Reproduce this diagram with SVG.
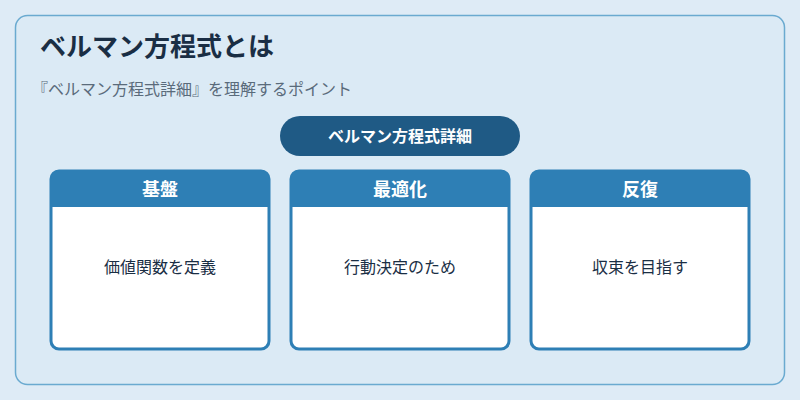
<svg xmlns="http://www.w3.org/2000/svg" width="800" height="400" viewBox="0 0 800 400">
<style>
text{font-family:"Noto Sans CJK JP","Noto Sans",sans-serif}
.card{fill:#fff;stroke:#2e7fb5;stroke-width:3}
.hd{fill:#2e7fb5}
.ht{fill:#fff;font-size:18px;font-weight:bold;text-anchor:middle}
.bt{fill:#1a2e44;font-size:16px;text-anchor:middle}
</style>
<rect x="0" y="0" width="800" height="400" fill="#deebf6"/>
<rect x="15.5" y="15.5" width="769" height="369" rx="12" fill="#dbeaf5" stroke="#6aaad0" stroke-width="1.5"/>
<text x="40" y="56" font-size="26" font-weight="bold" fill="#1a2e44">ベルマン方程式とは</text>
<text x="32" y="95" font-size="16" fill="#5a6b7b">『ベルマン方程式詳細』を理解するポイント</text>
<g id="center">
<rect x="280" y="116" width="240" height="40" rx="20" fill="#1f5a85"/>
<text x="400" y="142" font-size="16" font-weight="bold" fill="#fff" text-anchor="middle">ベルマン方程式詳細</text>
</g>
<g id="connectors"></g>
<g id="n1">
<rect class="card" x="51" y="171" width="218" height="178" rx="8"/>
<path class="hd" d="M51,207 V179 a8,8 0 0 1 8,-8 H261 a8,8 0 0 1 8,8 V207 Z"/>
<text class="ht" x="160" y="196">基盤</text>
<text class="bt" x="160" y="273">価値関数を定義</text>
</g>
<g id="n2">
<rect class="card" x="291" y="171" width="218" height="178" rx="8"/>
<path class="hd" d="M291,207 V179 a8,8 0 0 1 8,-8 H501 a8,8 0 0 1 8,8 V207 Z"/>
<text class="ht" x="400" y="196">最適化</text>
<text class="bt" x="400" y="273">行動決定のため</text>
</g>
<g id="n3">
<rect class="card" x="531" y="171" width="218" height="178" rx="8"/>
<path class="hd" d="M531,207 V179 a8,8 0 0 1 8,-8 H741 a8,8 0 0 1 8,8 V207 Z"/>
<text class="ht" x="640" y="196">反復</text>
<text class="bt" x="640" y="273">収束を目指す</text>
</g>
</svg>
